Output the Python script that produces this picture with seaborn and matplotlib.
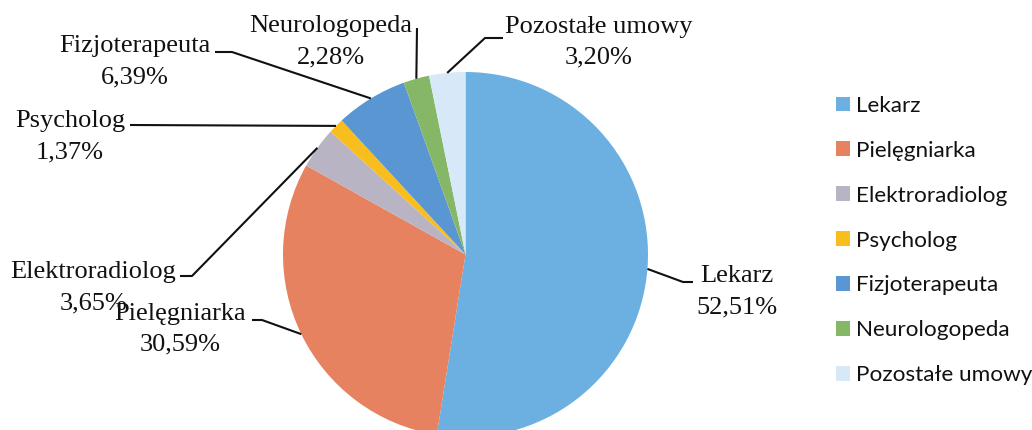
import matplotlib
matplotlib.use("Agg")
import matplotlib.pyplot as plt
import seaborn as sns
import numpy as np

categories = ["Lekarz", "Pielęgniarka", "Elektroradiolog", "Psycholog",
              "Fizjoterapeuta", "Neurologopeda", "Pozostałe umowy"]
values = [52.51, 30.59, 3.65, 1.37, 6.39, 2.28, 3.20]
pct_labels = ["52,51%", "30,59%", "3,65%", "1,37%", "6,39%", "2,28%", "3,20%"]
colors = ["#6cb0e2", "#e6825f", "#b9b4c3", "#f8be1e", "#5a96d2", "#85b767", "#d7e8f8"]

sns.set_theme(style="white")
plt.rcParams["font.family"] = ["Liberation Serif", "DejaVu Serif"]

W, H = 1032, 430
fig = plt.figure(figsize=(W / 100, H / 100), dpi=100)
ax = fig.add_axes([0, 0, 1, 1])

cx, cy, R = 465.5, 254.5, 182.5
wedges, _ = ax.pie(values, colors=colors, startangle=90, counterclock=False,
                   center=(cx, H - cy), radius=R,
                   wedgeprops=dict(linewidth=0))
ax.set_xlim(0, W)
ax.set_ylim(0, H)
ax.set_aspect("equal")
ax.axis("off")

# label layout (pixel coords, y from top): text center x, baseline1, baseline2, connector points
label_pos = [
    (736.5, 282, 313, [(693, 282), (683, 282)]),
    (180, 320, 350, [(252, 320), (262, 320)]),
    (93.5, 278, 309, [(180, 276), (192, 276)]),
    (70, 127, 158, [(130, 125)]),
    (135, 52, 83, [(215, 52), (232, 52)]),
    (331, 32, 63, [(417, 28)]),
    (599, 33, 63, [(503, 38), (485, 38)]),
]

fs = 19
for w, name, pct, (tx, b1, b2, pts) in zip(wedges, categories, pct_labels, label_pos):
    mid = np.deg2rad((w.theta1 + w.theta2) / 2)
    ex = cx + R * np.cos(mid)
    ey = (H - cy) + R * np.sin(mid)
    xs = [p[0] for p in pts] + [ex]
    ys = [H - p[1] for p in pts] + [ey]
    ax.plot(xs, ys, color="#111111", lw=1.5, solid_capstyle="butt")
    ax.text(tx, H - b1, name, ha="center", va="baseline", fontsize=fs, color="#111111")
    ax.text(tx, H - b2, pct, ha="center", va="baseline", fontsize=fs, color="#111111")

leg = ax.legend(wedges, categories, loc="center left",
                bbox_to_anchor=(836 / W, (H - 240.5) / H), bbox_transform=fig.transFigure,
                frameon=False, borderpad=0, borderaxespad=0,
                handlelength=0.6, handleheight=0.6, handletextpad=0.3,
                labelspacing=1.11,
                prop={"family": "Lato", "size": 16.2})
for t in leg.get_texts():
    t.set_color("#111111")

fig.savefig("out.png", dpi=100)
